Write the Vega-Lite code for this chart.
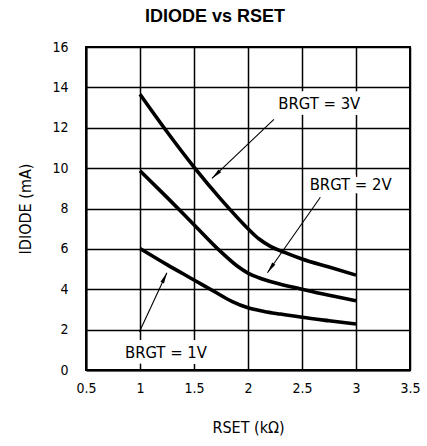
{
  "$schema": "https://vega.github.io/schema/vega-lite/v6.json",
  "width": 324,
  "height": 323,
  "autosize": "none",
  "padding": {"left": 86, "top": 47, "right": 17, "bottom": 76},
  "background": "white",
  "title": {"text": "IDIODE vs RSET", "font": "Liberation Sans, Arial, sans-serif", "fontSize": 18, "fontWeight": "bold", "color": "black", "anchor": "middle", "dx": -33, "offset": 14},
  "config": {
    "view": {"stroke": "black", "strokeWidth": 2},
    "axis": {
      "labelFont": "DejaVu Sans Condensed, sans-serif",
      "labelFontSize": 14,
      "labelColor": "black",
      "titleFont": "DejaVu Sans Condensed, sans-serif",
      "titleFontSize": 16,
      "titleFontWeight": "normal",
      "titleColor": "black",
      "grid": true,
      "gridColor": "black",
      "gridWidth": 1.5,
      "gridOpacity": 1,
      "domainColor": "black",
      "domainWidth": 2,
      "ticks": false,
      "tickSize": 0,
      "labelFlush": false,
      "labelOverlap": false
    }
  },
  "datasets": {
    "curves": [
      {"series": "3V", "r": 1.0, "i": 13.66},
      {"series": "3V", "r": 1.25, "i": 11.8},
      {"series": "3V", "r": 1.5, "i": 10.05},
      {"series": "3V", "r": 1.75, "i": 8.45},
      {"series": "3V", "r": 2.0, "i": 7.0},
      {"series": "3V", "r": 2.1, "i": 6.5},
      {"series": "3V", "r": 2.2, "i": 6.15},
      {"series": "3V", "r": 2.35, "i": 5.8},
      {"series": "3V", "r": 2.5, "i": 5.5},
      {"series": "3V", "r": 2.75, "i": 5.1},
      {"series": "3V", "r": 3.0, "i": 4.7},
      {"series": "2V", "r": 1.0, "i": 9.87},
      {"series": "2V", "r": 1.25, "i": 8.55},
      {"series": "2V", "r": 1.5, "i": 7.2},
      {"series": "2V", "r": 1.75, "i": 5.85},
      {"series": "2V", "r": 1.9, "i": 5.15},
      {"series": "2V", "r": 2.0, "i": 4.8},
      {"series": "2V", "r": 2.1, "i": 4.57},
      {"series": "2V", "r": 2.25, "i": 4.32},
      {"series": "2V", "r": 2.5, "i": 4.0},
      {"series": "2V", "r": 2.75, "i": 3.7},
      {"series": "2V", "r": 3.0, "i": 3.43},
      {"series": "1V", "r": 1.0, "i": 6.02},
      {"series": "1V", "r": 1.25, "i": 5.22},
      {"series": "1V", "r": 1.5, "i": 4.46},
      {"series": "1V", "r": 1.7, "i": 3.85},
      {"series": "1V", "r": 1.85, "i": 3.4},
      {"series": "1V", "r": 2.0, "i": 3.08},
      {"series": "1V", "r": 2.15, "i": 2.9},
      {"series": "1V", "r": 2.3, "i": 2.77},
      {"series": "1V", "r": 2.5, "i": 2.61},
      {"series": "1V", "r": 2.75, "i": 2.44},
      {"series": "1V", "r": 3.0, "i": 2.28}
    ],
    "notes": [
      {"series": "3V", "text": "BRGT = 3V", "tx": 2.66, "ty": 13.19, "ax": 2.24, "ay": 12.41, "hx": 1.666, "hy": 9.49},
      {"series": "2V", "text": "BRGT = 2V", "tx": 2.95, "ty": 9.16, "ax": 2.67, "ay": 8.56, "hx": 2.18, "hy": 4.82},
      {"series": "1V", "text": "BRGT = 1V", "tx": 1.24, "ty": 0.83, "ax": 0.995, "ay": 1.9, "hx": 1.249, "hy": 4.82}
    ]
  },
  "layer": [
    {
      "data": {"name": "notes"},
      "mark": {"type": "text", "font": "DejaVu Sans Condensed, sans-serif", "fontSize": 16.5, "align": "center", "baseline": "middle", "fill": "white", "stroke": "white", "strokeWidth": 12, "strokeJoin": "round"},
      "encoding": {
        "x": {"field": "tx", "type": "quantitative", "scale": {"domain": [0.5, 3.5]}, "title": "RSET (kΩ)", "axis": {"values": [0.5, 1, 1.5, 2, 2.5, 3, 3.5], "format": "~g", "labelPadding": 11, "titlePadding": 24}},
        "y": {"field": "ty", "type": "quantitative", "scale": {"domain": [0, 16]}, "title": "IDIODE (mA)", "axis": {"values": [0, 2, 4, 6, 8, 10, 12, 14, 16], "format": "d", "labelPadding": 18, "titlePadding": 18}},
        "text": {"field": "text"}
      }
    },
    {
      "data": {"name": "curves"},
      "mark": {"type": "line", "color": "black", "strokeWidth": 3.6, "interpolate": "monotone"},
      "encoding": {
        "x": {"field": "r", "type": "quantitative", "scale": {"domain": [0.5, 3.5]}, "title": "RSET (kΩ)", "axis": {"values": [0.5, 1, 1.5, 2, 2.5, 3, 3.5], "format": "~g", "labelPadding": 11, "titlePadding": 24}},
        "y": {"field": "i", "type": "quantitative", "scale": {"domain": [0, 16]}, "title": "IDIODE (mA)", "axis": {"values": [0, 2, 4, 6, 8, 10, 12, 14, 16], "format": "d", "labelPadding": 18, "titlePadding": 18}},
        "detail": {"field": "series"}
      }
    },
    {
      "data": {"name": "notes"},
      "mark": {"type": "rule", "color": "black", "strokeWidth": 1.1},
      "encoding": {
        "x": {"field": "ax", "type": "quantitative", "scale": {"domain": [0.5, 3.5]}, "title": "RSET (kΩ)", "axis": {"values": [0.5, 1, 1.5, 2, 2.5, 3, 3.5], "format": "~g", "labelPadding": 11, "titlePadding": 24}},
        "y": {"field": "ay", "type": "quantitative", "scale": {"domain": [0, 16]}, "title": "IDIODE (mA)", "axis": {"values": [0, 2, 4, 6, 8, 10, 12, 14, 16], "format": "d", "labelPadding": 18, "titlePadding": 18}},
        "x2": {"field": "hx"},
        "y2": {"field": "hy"}
      }
    },
    {
      "data": {"name": "notes"},
      "transform": [{"filter": "datum.series === '3V'"}],
      "mark": {"type": "point", "shape": "M0,0L0.35,2L-0.35,2Z", "filled": true, "color": "black", "opacity": 1, "size": 121, "angle": 226},
      "encoding": {
        "x": {"field": "hx", "type": "quantitative", "scale": {"domain": [0.5, 3.5]}, "title": "RSET (kΩ)", "axis": {"values": [0.5, 1, 1.5, 2, 2.5, 3, 3.5], "format": "~g", "labelPadding": 11, "titlePadding": 24}},
        "y": {"field": "hy", "type": "quantitative", "scale": {"domain": [0, 16]}, "title": "IDIODE (mA)", "axis": {"values": [0, 2, 4, 6, 8, 10, 12, 14, 16], "format": "d", "labelPadding": 18, "titlePadding": 18}}
      }
    },
    {
      "data": {"name": "notes"},
      "transform": [{"filter": "datum.series === '2V'"}],
      "mark": {"type": "point", "shape": "M0,0L0.35,2L-0.35,2Z", "filled": true, "color": "black", "opacity": 1, "size": 121, "angle": 215},
      "encoding": {
        "x": {"field": "hx", "type": "quantitative", "scale": {"domain": [0.5, 3.5]}, "title": "RSET (kΩ)", "axis": {"values": [0.5, 1, 1.5, 2, 2.5, 3, 3.5], "format": "~g", "labelPadding": 11, "titlePadding": 24}},
        "y": {"field": "hy", "type": "quantitative", "scale": {"domain": [0, 16]}, "title": "IDIODE (mA)", "axis": {"values": [0, 2, 4, 6, 8, 10, 12, 14, 16], "format": "d", "labelPadding": 18, "titlePadding": 18}}
      }
    },
    {
      "data": {"name": "notes"},
      "transform": [{"filter": "datum.series === '1V'"}],
      "mark": {"type": "point", "shape": "M0,0L0.35,2L-0.35,2Z", "filled": true, "color": "black", "opacity": 1, "size": 121, "angle": 25},
      "encoding": {
        "x": {"field": "hx", "type": "quantitative", "scale": {"domain": [0.5, 3.5]}, "title": "RSET (kΩ)", "axis": {"values": [0.5, 1, 1.5, 2, 2.5, 3, 3.5], "format": "~g", "labelPadding": 11, "titlePadding": 24}},
        "y": {"field": "hy", "type": "quantitative", "scale": {"domain": [0, 16]}, "title": "IDIODE (mA)", "axis": {"values": [0, 2, 4, 6, 8, 10, 12, 14, 16], "format": "d", "labelPadding": 18, "titlePadding": 18}}
      }
    },
    {
      "data": {"name": "notes"},
      "mark": {"type": "text", "font": "DejaVu Sans Condensed, sans-serif", "fontSize": 16.5, "align": "center", "baseline": "middle", "color": "black"},
      "encoding": {
        "x": {"field": "tx", "type": "quantitative", "scale": {"domain": [0.5, 3.5]}, "title": "RSET (kΩ)", "axis": {"values": [0.5, 1, 1.5, 2, 2.5, 3, 3.5], "format": "~g", "labelPadding": 11, "titlePadding": 24}},
        "y": {"field": "ty", "type": "quantitative", "scale": {"domain": [0, 16]}, "title": "IDIODE (mA)", "axis": {"values": [0, 2, 4, 6, 8, 10, 12, 14, 16], "format": "d", "labelPadding": 18, "titlePadding": 18}},
        "text": {"field": "text"}
      }
    }
  ]
}
